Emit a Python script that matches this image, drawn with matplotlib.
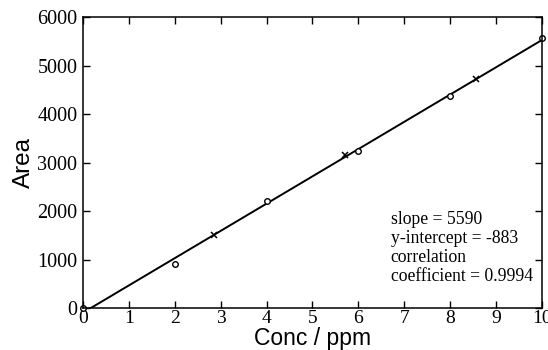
import matplotlib
matplotlib.use('Agg')
import matplotlib.pyplot as plt
import numpy as np

# calibration standards (circles) and samples (crosses)
std_conc = [0, 2, 4, 6, 8, 10]
std_area = [0, 900, 2200, 3230, 4370, 5580]
smp_conc = [2.86, 5.71, 8.57]
smp_area = [1500, 3150, 4720]

xticks = [0, 1, 2, 3, 4, 5, 6, 7, 8, 9, 10]
yticks = [0, 1000, 2000, 3000, 4000, 5000, 6000]
note = 'slope = 5590\ny-intercept = -883\ncorrelation\ncoefficient = 0.9994'

# straight line fit through all points
allx = np.array(std_conc + smp_conc)
ally = np.array(std_area + smp_area)
m, b = np.polyfit(allx, ally, 1)
xl = np.linspace(0, 10, 50)

fig = plt.figure(figsize=(5.48, 3.5), dpi=100)
ax = fig.add_axes([0.1515, 0.12, 0.8375, 0.831])
ax.plot(xl, m * xl + b, color='black', linewidth=1.4)
ax.plot(std_conc, std_area, 'o', mfc='white', mec='black', ms=4, mew=1.0, clip_on=False)
ax.plot(smp_conc, smp_area, 'x', color='black', ms=5, mew=1.1)

ax.set_xlim(0, 10)
ax.set_ylim(0, 6000)
ax.set_xticks(xticks)
ax.set_yticks(yticks)
ax.set_xticklabels([str(t) for t in xticks], family='Liberation Serif', fontsize=14)
ax.set_yticklabels([str(t) for t in yticks], family='Liberation Serif', fontsize=14.5)
ax.tick_params(direction='in', top=True, right=True, length=5, width=1)
ax.tick_params(axis='y', pad=4)
ax.tick_params(axis='x', pad=1.5)
for s in ax.spines.values():
    s.set_linewidth(1.1)

ax.set_xlabel('Conc / ppm', family='Liberation Sans', fontsize=16.5, labelpad=0)
ax.set_ylabel('Area', family='Liberation Sans', fontsize=17.5, labelpad=2)
ax.text(6.7, 2000, note, family='Liberation Serif', fontsize=12.7, va='top',
        linespacing=1.15)

plt.savefig('out.png', dpi=100)
